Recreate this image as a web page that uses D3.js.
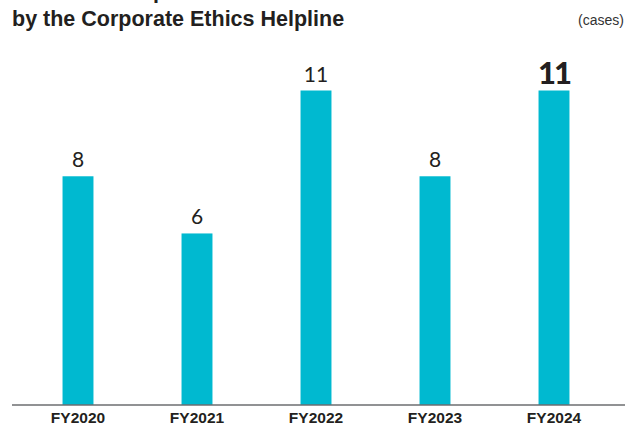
<!DOCTYPE html>
<html>
<head>
<meta charset="utf-8">
<script src="https://cdn.jsdelivr.net/npm/d3@7"></script>
<style>
  html, body { margin: 0; padding: 0; background: #fff; }
  svg { display: block; }
</style>
</head>
<body>
<script>
const categories = ["FY2020", "FY2021", "FY2022", "FY2023", "FY2024"];
const values = [8, 6, 11, 8, 11];
const titleLines = ["Number of Reports and Consultations Received", "by the Corporate Ethics Helpline"];
const unitLabel = "(cases)";

const W = 633, H = 425;
const svg = d3.select("body").append("svg").attr("width", W).attr("height", H);

const x = d3.scaleBand().domain(categories).range([18.5, 613.5]).paddingInner(0.74).paddingOuter(0.37);
const y = d3.scaleLinear().domain([0, 11]).range([405, 90.5]);

// Title
svg.append("text").attr("x", 12).attr("y", -2)
  .attr("font-family", "Liberation Sans, Arial, sans-serif").attr("font-weight", "bold")
  .attr("font-size", 21.5).attr("fill", "#231f20").text(titleLines[0]);
svg.append("text").attr("x", 12).attr("y", 26)
  .attr("font-family", "Liberation Sans, Arial, sans-serif").attr("font-weight", "bold")
  .attr("font-size", 21.5).attr("fill", "#231f20").text(titleLines[1]);
svg.append("text").attr("x", 624).attr("y", 25).attr("text-anchor", "end")
  .attr("font-family", "Liberation Sans, Arial, sans-serif")
  .attr("font-size", 14).attr("fill", "#333").text(unitLabel);

// Bars
svg.selectAll("rect.bar").data(categories).join("rect")
  .attr("class", "bar")
  .attr("x", d => x(d))
  .attr("width", x.bandwidth())
  .attr("y", (d, i) => y(values[i]))
  .attr("height", (d, i) => y(0) - y(values[i]))
  .attr("fill", "#00b9d0");

// Value labels
svg.selectAll("text.val").data(categories).join("text")
  .attr("class", "val")
  .attr("x", d => x(d) + x.bandwidth() / 2)
  .attr("y", (d, i) => y(values[i]) - (i === categories.length - 1 ? 7 : 9))
  .attr("text-anchor", "middle")
  .attr("font-family", "Lato, sans-serif")
  .attr("font-weight", (d, i) => i === categories.length - 1 ? 900 : 400)
  .attr("font-size", (d, i) => i === categories.length - 1 ? 31 : 21)
  .attr("letter-spacing", (d, i) => i === categories.length - 1 ? -2 : 0)
  .attr("fill", "#231f20")
  .text((d, i) => values[i]);

// Axis
const axis = d3.axisBottom(x).tickSize(0).tickPadding(7);
const g = svg.append("g").attr("transform", `translate(0,${y(0)})`).call(axis);
g.select(".domain").remove();
g.append("line").attr("x1", 12).attr("x2", 625).attr("y1", 0).attr("y2", 0)
  .attr("stroke", "#6d6e71").attr("stroke-width", 1.5);
g.selectAll(".tick text")
  .attr("font-family", "Liberation Sans, Arial, sans-serif")
  .attr("font-weight", "bold").attr("font-size", 15.5).attr("fill", "#231f20");
</script>
</body>
</html>
